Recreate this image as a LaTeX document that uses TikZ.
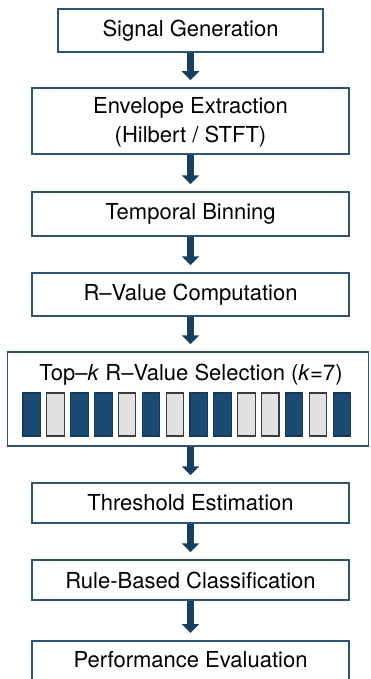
\documentclass[tikz,border=0pt]{standalone}
\usepackage{fontspec}
\setmainfont{TeX Gyre Heros}
\usetikzlibrary{arrows.meta}

\definecolor{boxline}{HTML}{2F5373}
\definecolor{arrowblue}{HTML}{173F5F}
\definecolor{barblue}{HTML}{1B4B72}
\definecolor{barblueline}{HTML}{153A58}
\definecolor{barlight}{HTML}{E2E2E2}
\definecolor{barlightline}{HTML}{3C3C3C}

\tikzset{
  labelfont/.style={font=\fontsize{22}{29}\selectfont},
  stagebox/.style={draw=boxline, line width=1.5pt, fill=white, rectangle,
    inner sep=0pt, align=center, text=black, labelfont},
  flowarrow/.style={draw=arrowblue, line width=7pt,
    -{Triangle[width=17pt,length=9pt]}},
  darkbar/.style={draw=barblueline, line width=1.1pt, fill=barblue},
  lightbar/.style={draw=barlightline, line width=1.1pt, fill=barlight},
}

\begin{document}
\begin{tikzpicture}[x=1pt, y=-1pt]
  \useasboundingbox (0,0) rectangle (370,679);
  \fill[white] (0,0) rectangle (370,679);

  % processing stages
  \node[stagebox, minimum width=265pt, minimum height=43pt] (gen) at (190.5,30.5) {Signal Generation};
  \node[stagebox, minimum width=317pt, minimum height=66pt] (env) at (190.5,121) {};
  \node[labelfont, inner sep=0pt, align=center] (envtext) at (190.5,122.5) {Envelope Extraction\\(Hilbert / STFT)};
  \node[stagebox, minimum width=317pt, minimum height=44pt] (bin) at (190.5,214) {Temporal Binning};
  \node[stagebox, minimum width=317pt, minimum height=43pt] (rval) at (190.5,294.5) {R–Value Computation};
  \node[stagebox, minimum width=361pt, minimum height=94pt] (topk) at (188,399) {};
  \node[labelfont, inner sep=0pt] (topktitle) at (191,375) {Top–\textit{k} R–Value Selection (\textit{k}=7)};
  \node[stagebox, minimum width=317pt, minimum height=40pt] (thr) at (190.5,503) {Threshold Estimation};
  \node[stagebox, minimum width=317pt, minimum height=40pt] (cls) at (190.5,580) {Rule-Based Classification};
  \node[stagebox, minimum width=317pt, minimum height=52pt, anchor=north] (perf) at (190.5,640) {};
  \node[labelfont, inner sep=0pt] (perftext) at (190.5,660) {Performance Evaluation};

  % selected (dark) and unselected (light) bins
  \foreach \i/\sel in {0/1,1/0,2/1,3/1,4/0,5/1,6/0,7/1,8/1,9/0,10/0,11/1,12/0,13/1} {
    \pgfmathsetmacro{\xl}{23+\i*23.85}
    \ifnum\sel=1
      \draw[darkbar] (\xl,393) rectangle ++(17.5,43);
    \else
      \draw[lightbar] (\xl,393) rectangle ++(17.5,43);
    \fi
  }

  % connectors
  \draw[flowarrow] (gen.south) -- ([yshift=7pt]gen.south |- env.north);
  \draw[flowarrow] (env.south) -- ([yshift=7pt]env.south |- bin.north);
  \draw[flowarrow] (bin.south) -- ([yshift=7pt]bin.south |- rval.north);
  \draw[flowarrow] (rval.south) -- ([yshift=7pt]rval.south |- topk.north);
  \draw[flowarrow] (rval.south |- topk.south) -- ([yshift=7pt]rval.south |- thr.north);
  \draw[flowarrow] (thr.south) -- ([yshift=7pt]thr.south |- cls.north);
  \draw[flowarrow] (cls.south) -- ([yshift=7pt]cls.south |- perf.north);
\end{tikzpicture}
\end{document}
